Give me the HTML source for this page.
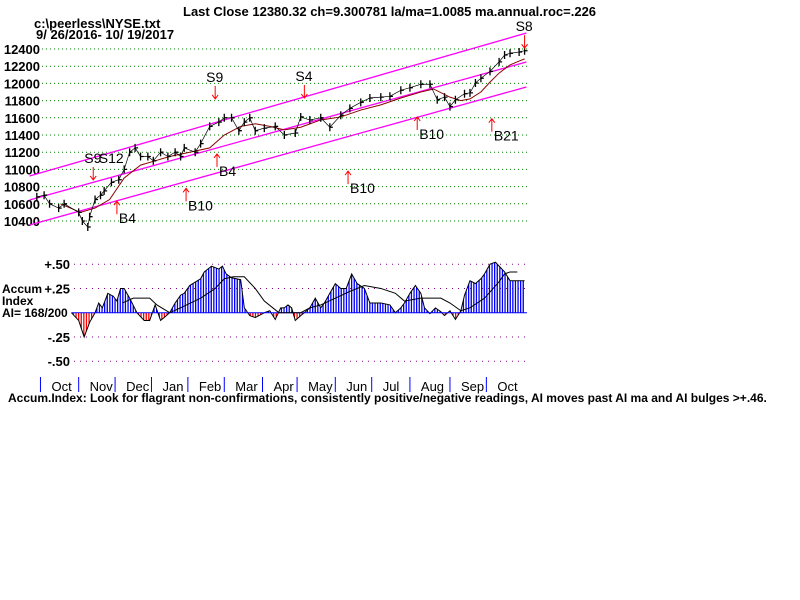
<!DOCTYPE html>
<html><head><meta charset="utf-8"><style>
body{margin:0;background:#fff;}
svg{display:block;font-family:"Liberation Sans",Arial,sans-serif;}
.lb{font-size:13px;font-weight:bold;fill:#000;}
.sg{font-size:14px;fill:#000;}
</style></head><body>
<svg id="c" width="800" height="600" viewBox="0 0 800 600">
<text x="183" y="16" class="lb">Last Close 12380.32 ch=9.300781  la/ma=1.0085 ma.annual.roc=.226</text>
<text x="34" y="28" class="lb">c:\peerless\NYSE.txt</text>
<text x="36" y="39" class="lb">9/ 26/2016- 10/ 19/2017</text>
<g id="grid"></g><g id="chan"></g><g id="price"></g><g id="ai"></g><g id="sig"></g><g id="months"></g>
<text x="8" y="402" class="lb" style="font-size:12px">Accum.Index: Look for flagrant non-confirmations, consistently positive/negative readings, AI moves past AI ma and AI bulges &gt;+.46.</text>
<text x="2" y="293" class="lb" style="font-size:12px">Accum</text>
<text x="2" y="305" class="lb" style="font-size:12px">Index</text>
<text x="2" y="317" class="lb" style="font-size:12px">AI= 168/200</text>
</svg>
<script>
const priceTicks=[12400,12200,12000,11800,11600,11400,11200,11000,10800,10600,10400];
const aiTicks=[0.5,0.25,-0.25,-0.5];
const aiTickLabels=["+.50","+.25","-.25","-.50"];
const priceDays=[1,5,8,13,16,24,26,29,30,33,36,38,42,46,49,52,55,58,62,65,69,73,77,80,82,88,91,96,101,104,108,112,115,118,121,126,132,137,143,146,151,157,162,168,173,179,184,190,195,201,206,212,217,221,225,228,231,236,239,242,245,250,255,258,261,266,269];
const priceVals=[10680,10700,10600,10550,10600,10500,10400,10330,10450,10650,10700,10750,10850,10880,11000,11200,11250,11150,11150,11100,11200,11150,11200,11150,11250,11200,11300,11500,11550,11600,11600,11450,11550,11600,11450,11480,11500,11400,11423,11610,11574,11600,11490,11630,11710,11780,11830,11840,11850,11920,11950,11990,11990,11810,11840,11730,11810,11880,11890,12005,12060,12140,12250,12330,12350,12365,12380];
const maDays=[14,25,33,41,49,58,66,74,85,96,104,113,121,129,137,146,157,168,179,190,201,212,219,228,234,239,245,250,255,261,266,269];
const maVals=[10600,10500,10550,10650,10900,11050,11100,11150,11200,11250,11400,11500,11530,11500,11460,11490,11575,11610,11690,11750,11830,11900,11935,11840,11800,11820,11900,12015,12120,12215,12260,12285];
const chanDays=[-3,270];
const chanUpper=[10923,12586];
const chanMid=[10644,12249];
const chanLower=[10353,11958];
const aiDays=[20,24,27,30,33,35,37,40,43,45,47,49,52,56,60,63,66,69,71,74,77,80,82,85,91,93,97,101,103,105,108,113,115,118,121,124,126,129,132,135,137,139,141,143,146,148,151,154,157,159,162,165,168,171,174,177,181,184,190,195,198,201,203,206,209,212,214,217,220,223,225,228,231,234,236,239,242,245,247,250,253,255,258,261,264,269];
const aiVals=[0,-0.08,-0.25,-0.1,0,0.1,0.05,0.2,0.17,0.12,0.25,0.25,0.15,0,-0.08,-0.08,0.08,-0.08,-0.05,0,0.1,0.18,0.2,0.28,0.35,0.42,0.48,0.45,0.48,0.4,0.36,0.34,0.05,-0.03,-0.05,-0.02,0,0.02,-0.07,0.05,0.05,0.08,0.05,-0.08,-0.03,0,0.05,0.15,0.05,0.1,0.2,0.3,0.25,0.25,0.4,0.3,0.25,0.1,0.1,0.08,0,0.05,0.1,0.2,0.28,0.2,0.05,-0.01,0.05,0.01,-0.03,0.02,-0.07,0.02,0.18,0.33,0.3,0.35,0.4,0.5,0.52,0.48,0.42,0.33,0.33,0.33];
const aiMaDays=[48,54,63,67,74,80,91,99,104,109,115,121,126,134,146,151,157,165,173,181,190,198,203,212,223,228,234,239,247,255,258,261,265];
const aiMaVals=[0.1,0.15,0.15,0.08,0,0.05,0.15,0.25,0.35,0.37,0.37,0.25,0.12,0,0,0.05,0.08,0.15,0.22,0.28,0.25,0.2,0.12,0.15,0.15,0.1,0.02,0.05,0.15,0.32,0.4,0.42,0.42];
const months=["Oct","Nov","Dec","Jan","Feb","Mar","Apr","May","Jun","Jul","Aug","Sep","Oct"];
const monthDays=[3,24,44,64,84,104,125,144,165,185,206,228,248];
const sigNames=["S9","S12","B4","B10","S9","B4","S4","B10","B10","B21","S8"];
const sigDays=[32,40,45,83,99,100,148,172,210,251,269];
const sigPrices=[10877,10877,10630,10780,11820,11180,11830,10980,11610,11590,12410];

const NS="http://www.w3.org/2000/svg";
const X=d=>35+d*1.82;
const PY=p=>49+(12400-p)/200*17.2;
const AY=v=>312.7-v*97;
function mk(p,t,a){const e=document.createElementNS(NS,t);for(const k in a)e.setAttribute(k,a[k]);p.appendChild(e);return e;}
const g=id=>document.getElementById(id);
priceTicks.forEach(t=>{
  const l=mk(g('grid'),'line',{x1:42,x2:527,y1:PY(t),y2:PY(t),stroke:'#008000','stroke-dasharray':'1,3'});
  
  
  const tx=mk(g('grid'),'text',{x:40,y:PY(t)+5,'text-anchor':'end',class:'lb'});tx.textContent=t;
  
  
});
aiTicks.forEach((t,i)=>{
  const l=mk(g('grid'),'line',{x1:74,x2:527,y1:AY(t),y2:AY(t),stroke:'#800080','stroke-dasharray':'1,5'});
  
  
  const tx=mk(g('grid'),'text',{x:70,y:AY(t)+5,'text-anchor':'end',class:'lb'});tx.textContent=aiTickLabels[i];
  
  
});
[chanUpper,chanMid,chanLower].forEach(c=>{
  const l=mk(g('chan'),'line',{x1:X(chanDays[0]),x2:X(chanDays[1]),y1:PY(c[0]),y2:PY(c[1]),stroke:'#ff00ff','stroke-width':1.3});
  
  
});
const ma=mk(g('price'),'polyline',{points:maDays.map((d,i)=>X(d)+','+PY(maVals[i])).join(' '),fill:'none',stroke:'#8b0000','stroke-width':1});


const cl=mk(g('price'),'polyline',{points:priceDays.map((d,i)=>X(d)+','+PY(priceVals[i])).join(' '),fill:'none',stroke:'#000','stroke-width':0.7});


priceDays.forEach((d,i)=>{
  const x=X(d),y=PY(priceVals[i]);
  const b=mk(g('price'),'path',{d:`M${x},${y-4}V${y+4}M${x},${y}h3`,stroke:'#000','stroke-width':1.3,fill:'none'});
  
  
});
const defs=mk(g('ai'),'defs',{});
const pb=mk(defs,'pattern',{id:'pb',width:2.6,height:10,patternUnits:'userSpaceOnUse'});mk(pb,'rect',{x:0,y:0,width:1.3,height:10,fill:'#0000ff'});
const pr=mk(defs,'pattern',{id:'pr',width:2.6,height:10,patternUnits:'userSpaceOnUse'});mk(pr,'rect',{x:0,y:0,width:1.3,height:10,fill:'#ff0000'});
const cpP=mk(defs,'clipPath',{id:'cpP'});mk(cpP,'rect',{x:0,y:0,width:800,height:AY(0)});
const cpN=mk(defs,'clipPath',{id:'cpN'});mk(cpN,'rect',{x:0,y:AY(0),width:800,height:200});
const pts=aiDays.map((d,i)=>X(d)+','+AY(aiVals[i])).join(' L');
const area=`M${X(aiDays[0])},${AY(0)} L${pts} L${X(aiDays[aiDays.length-1])},${AY(0)}Z`;
const ap=mk(g('ai'),'path',{d:area,fill:'url(#pb)','clip-path':'url(#cpP)'});


const an=mk(g('ai'),'path',{d:area,fill:'url(#pr)','clip-path':'url(#cpN)'});


const al=mk(g('ai'),'polyline',{points:aiDays.map((d,i)=>X(d)+','+AY(aiVals[i])).join(' '),fill:'none',stroke:'#000','stroke-width':1});


const zl=mk(g('ai'),'line',{x1:X(aiDays[0]),x2:527,y1:AY(0),y2:AY(0),stroke:'#0000ff','stroke-width':1});


const am=mk(g('ai'),'polyline',{points:aiMaDays.map((d,i)=>X(d)+','+AY(aiMaVals[i])).join(' '),fill:'none',stroke:'#000','stroke-width':1});


sigNames.forEach((s,i)=>{
  const x=X(sigDays[i]),y=PY(sigPrices[i]);const buy=s[0]=='B';
  if(s!=='S12'){
    const a=buy?mk(g('sig'),'path',{d:`M${x},${y}v13M${x-3},${y+4}L${x},${y}L${x+3},${y+4}`,stroke:'#ff0000',fill:'none'}):mk(g('sig'),'path',{d:`M${x},${y}v-13M${x-3},${y-4}L${x},${y}L${x+3},${y-4}`,stroke:'#ff0000',fill:'none'});
    
    
  }
  const t=mk(g('sig'),'text',{x:buy?x+2:x-9,y:buy?y+22:y-17,class:'sg'});t.textContent=s;
  
  
});
months.forEach((m,i)=>{
  const x=X(monthDays[i]);
  const l=mk(g('months'),'line',{x1:x,x2:x,y1:377,y2:392,stroke:'#0000ff'});
  
  
  const t=mk(g('months'),'text',{x:x+11,y:391,class:'lb',style:'font-weight:normal;font-size:13px'});t.textContent=m;
  
  
});
</script>
</body></html>
